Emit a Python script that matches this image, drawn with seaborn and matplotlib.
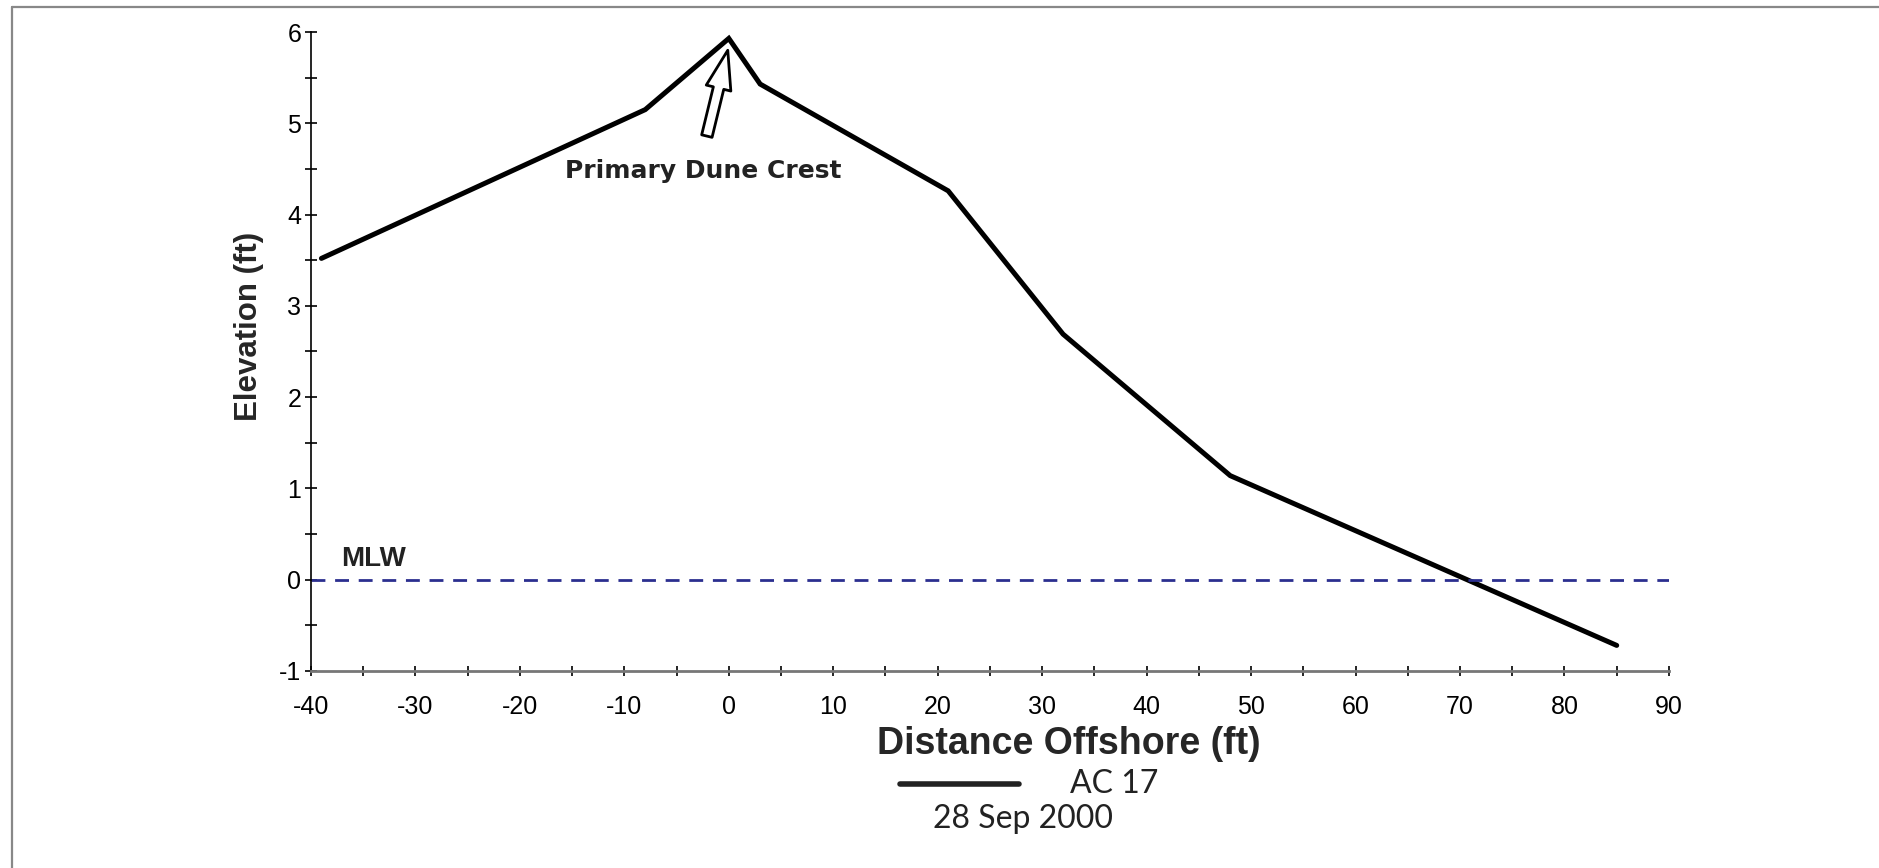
import numpy as np
import pandas as pd
import seaborn as sns
import matplotlib.pyplot as plt
from matplotlib.lines import Line2D
from matplotlib.ticker import MultipleLocator

# profile AC 17, 28 Sep 2000
distance = [-39, -8, 0, 3, 21, 32, 48, 85]
elevation = [3.52, 5.15, 5.93, 5.43, 4.26, 2.69, 1.14, -0.72]
mlw_x = [-40, 90]
mlw_y = [0, 0]

sns.set_style('white')
plt.rcParams['font.family'] = ['Liberation Sans', 'DejaVu Sans']
plt.rcParams['axes.unicode_minus'] = False

fig = plt.figure(figsize=(18.79, 8.68), dpi=100)
ax = fig.add_axes([0.1655, 0.2270, 0.8882 - 0.1655, 0.9631 - 0.2270])

df = pd.DataFrame({'distance': distance, 'elevation': elevation})
sns.lineplot(data=df, x='distance', y='elevation', ax=ax, color='black',
             lw=3.6, sort=False, solid_capstyle='round', solid_joinstyle='miter')
sns.lineplot(x=mlw_x, y=mlw_y, ax=ax, color='#2b2f8f', lw=2.0,
             dashes=False, linestyle=(0, (5, 3.5)))

ax.set_xlim(-40, 90)
ax.set_ylim(-1, 6)
ax.xaxis.set_major_locator(MultipleLocator(10))
ax.xaxis.set_minor_locator(MultipleLocator(5))
ax.yaxis.set_major_locator(MultipleLocator(1))
ax.yaxis.set_minor_locator(MultipleLocator(0.5))
ax.tick_params(axis='both', which='both', direction='inout', width=1.2,
               colors='black', labelsize=18, bottom=True, left=True)
ax.tick_params(axis='y', which='both', length=8, pad=3)
ax.tick_params(axis='x', which='both', length=7, pad=14)

for s in ['top', 'right']:
    ax.spines[s].set_visible(False)
ax.spines['left'].set_color('black')
ax.spines['left'].set_linewidth(1.2)
ax.spines['bottom'].set_color('#777777')
ax.spines['bottom'].set_linewidth(2)

ax.set_xlabel('Distance Offshore (ft)', fontsize=27, fontweight='bold', labelpad=5)
ax.xaxis.label.set_x(0.558)
ax.set_ylabel('Elevation (ft)', fontsize=22.5, fontweight='bold', labelpad=11)
ax.yaxis.label.set_y(0.54)

ax.text(-37.1, 0.15, 'MLW', fontsize=20, fontweight='bold', color='#222222')
ax.text(-15.7, 4.4, 'Primary Dune Crest', fontsize=18, fontweight='bold',
        color='#222222', family=['DejaVu Sans'])
ax.annotate('', xy=(-0.1, 5.8), xytext=(-2.1, 4.86),
            arrowprops=dict(arrowstyle='simple,head_width=1.3,head_length=2.0,tail_width=0.55',
                            mutation_scale=14, facecolor='white', edgecolor='black', lw=2,
                            shrinkA=0, shrinkB=0))

# legend-like caption below the axis
fig.add_artist(Line2D([900 / 1879, 1019 / 1879], [1 - 784 / 868, 1 - 784 / 868],
                      color='#222222', lw=4))
fig.text(1070 / 1879, 1 - 793 / 868, 'AC 17', fontsize=23, color='#222222',
         family=['Lato', 'DejaVu Sans'])
fig.text(933 / 1879, 1 - 828 / 868, '28 Sep 2000', fontsize=23, color='#222222',
         family=['Lato', 'DejaVu Sans'])

# page frame
fig.add_artist(Line2D([12 / 1879, 1], [1 - 7 / 868, 1 - 7 / 868], color='#888888', lw=1.6))
fig.add_artist(Line2D([12 / 1879, 12 / 1879], [0, 1 - 7 / 868], color='#888888', lw=1.6))

fig.savefig('out.png', dpi=100)
